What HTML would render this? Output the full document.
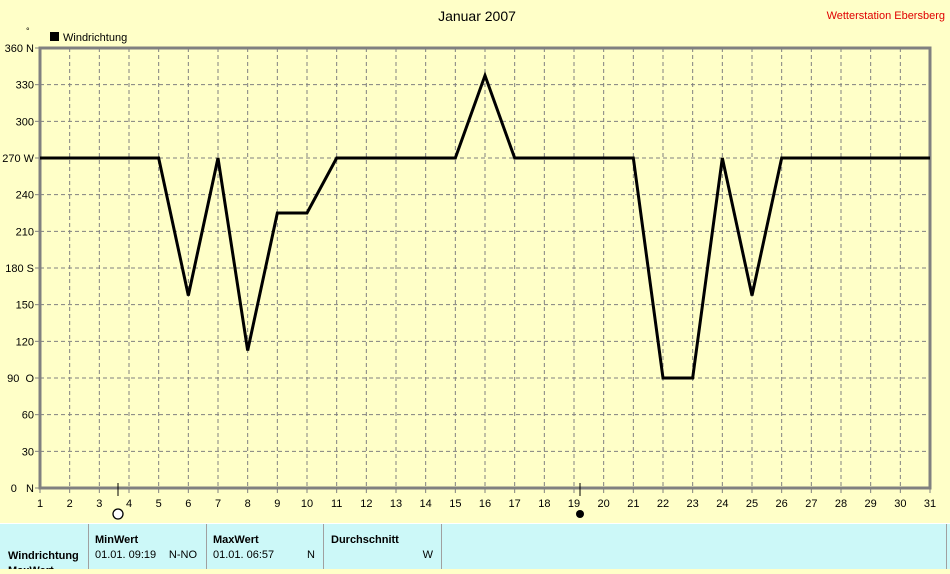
<!DOCTYPE html>
<html><head><style>
body{margin:0;width:950px;height:569px;overflow:hidden;background:#ffffc8;font-family:"Liberation Sans",sans-serif;}
svg text{font-family:"Liberation Sans",sans-serif;font-size:11px;fill:#000}
</style></head><body>
<svg width="950" height="569" xmlns="http://www.w3.org/2000/svg">
<rect width="950" height="569" fill="#ffffc8"/>
<text x="477" y="21" text-anchor="middle" style="font-size:14px">Januar 2007</text>
<text x="945" y="19" text-anchor="end" style="font-size:11px;fill:#e00000">Wetterstation Ebersberg</text>
<text x="26" y="34" style="font-size:9px">°</text>
<rect x="50" y="32" width="9" height="9" fill="#000"/>
<text x="63" y="41">Windrichtung</text>
<g id="grid" stroke="#808080" stroke-dasharray="4,3" stroke-width="1">
</g>
<g id="g"></g>
<rect x="40" y="48" width="890" height="440" fill="none" stroke="#808080" stroke-width="3"/>
<g id="lab"></g>
<polyline fill="none" stroke="#000" stroke-width="3" stroke-linejoin="miter" id="pl"/>
<line x1="118" y1="483" x2="118" y2="496" stroke="#000"/>
<circle cx="118" cy="514" r="5" fill="#fff" stroke="#000" stroke-width="1.3"/>
<line x1="580" y1="483" x2="580" y2="496" stroke="#000"/>
<circle cx="580" cy="514" r="4" fill="#000"/>
<rect x="0" y="524" width="950" height="45" fill="#ccf8f8"/>
<line x1="0" y1="523.5" x2="950" y2="523.5" stroke="#fff"/>
<g stroke="#a0a0a0"><line x1="88.5" y1="524" x2="88.5" y2="569"/><line x1="206.5" y1="524" x2="206.5" y2="569"/><line x1="323.5" y1="524" x2="323.5" y2="569"/><line x1="441.5" y1="524" x2="441.5" y2="569"/><line x1="946.5" y1="524" x2="946.5" y2="569"/></g>
<text x="8" y="559" style="font-weight:bold">Windrichtung</text>
<text x="8" y="574" style="font-weight:bold">MaxWert</text>
<text x="95" y="543" style="font-weight:bold">MinWert</text>
<text x="95" y="558">01.01.  09:19</text>
<text x="197" y="558" text-anchor="end">N-NO</text>
<text x="213" y="543" style="font-weight:bold">MaxWert</text>
<text x="213" y="558">01.01.  06:57</text>
<text x="315" y="558" text-anchor="end">N</text>
<text x="331" y="543" style="font-weight:bold">Durchschnitt</text>
<text x="433" y="558" text-anchor="end">W</text>
</svg>
<script>
var ns="http://www.w3.org/2000/svg",g=document.getElementById('g'),lab=document.getElementById('lab');
function el(t,a,p){var e=document.createElementNS(ns,t);for(var k in a)e.setAttribute(k,a[k]);p.appendChild(e);return e;}
function X(d){return 40+(d-1)*890/30}
function Y(v){return 488-v*440/360}
for(var d=2;d<=30;d++)el('line',{x1:X(d),y1:48,x2:X(d),y2:488,stroke:'#808080','stroke-dasharray':'4,3'},g);
for(var v=30;v<360;v+=30)el('line',{x1:40,y1:Y(v),x2:930,y2:Y(v),stroke:'#808080','stroke-dasharray':'4,3'},g);
for(var d=1;d<=31;d++){el('line',{x1:X(d),y1:488,x2:X(d),y2:493,stroke:'#808080'},lab);var t=el('text',{x:X(d),y:507,'text-anchor':'middle'},lab);t.textContent=d;}
var names={0:'N',90:'O',180:'S',270:'W',360:'N'};
for(var v=0;v<=360;v+=30){el('line',{x1:35,y1:Y(v),x2:40,y2:Y(v),stroke:'#808080'},lab);var s=v+(names[v]!==undefined?(v==0?'   ':(v==90?'  ':' '))+names[v]:'');var t=el('text',{x:names[v]!==undefined?34:34,y:Y(v)+4,'text-anchor':'end'},lab);t.setAttribute('xml:space','preserve');t.style.whiteSpace='pre';t.textContent=s;}
var vals=[270,270,270,270,270,157.5,270,112.5,225,225,270,270,270,270,270,337.5,270,270,270,270,270,90,90,270,157.5,270,270,270,270,270,270];
document.getElementById('pl').setAttribute('points',vals.map(function(v,i){return X(i+1)+','+Y(v)}).join(' '));
</script>
</body></html>
